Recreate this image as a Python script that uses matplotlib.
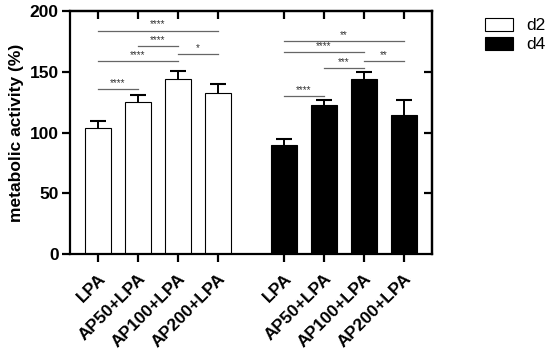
import numpy as np
import matplotlib.pyplot as plt

labels = ['LPA', 'AP50+LPA', 'AP100+LPA', 'AP200+LPA']
d2_mean = [103.5, 125, 144, 133]
d2_err = [6, 6, 7, 7]
d4_mean = [90, 123, 144, 114.5]
d4_err = [5, 4, 6, 12.5]

# significance brackets: (group, i, j, height, stars)
sig = [
    ('d2', 0, 3, 184, '****'),
    ('d2', 1, 2, 171, '****'),
    ('d2', 2, 3, 165, '*'),
    ('d2', 0, 2, 159, '****'),
    ('d2', 0, 1, 136, '****'),
    ('d4', 0, 3, 175, '**'),
    ('d4', 0, 2, 166, '****'),
    ('d4', 2, 3, 159, '**'),
    ('d4', 1, 2, 153, '***'),
    ('d4', 0, 1, 130, '****'),
]

plt.rcParams['font.family'] = ['Liberation Sans', 'DejaVu Sans']

x2 = np.arange(4)
x4 = np.arange(4) + 4.65
w = 0.65

fig = plt.figure(figsize=(5.5, 3.58), dpi=100)
ax = fig.add_axes([0.127, 0.29, 0.658, 0.679])

ax.bar(x2, d2_mean, w, color='white', edgecolor='black', linewidth=0.8,
       label='d2', zorder=2)
ax.bar(x4, d4_mean, w, color='black', edgecolor='black', linewidth=0.8,
       label='d4', zorder=2)
for xs, m, e in [(x2, d2_mean, d2_err), (x4, d4_mean, d4_err)]:
    eb = ax.errorbar(xs, m, yerr=[np.zeros(4), e], fmt='none',
                     ecolor='black', elinewidth=1.4, capsize=6,
                     capthick=1.5, zorder=3)
    eb[1][0].set_visible(False)  # hide the lower cap

for grp, i, j, h, s in sig:
    xs = x2 if grp == 'd2' else x4
    ax.plot([xs[i], xs[j]], [h, h], color='#666666', lw=0.9)
    ax.text((xs[i] + xs[j]) / 2, h + 0.8, s, ha='center', va='bottom',
            fontsize=7, color='#333333')

ax.set_xlim(-0.7, 8.35)
ax.set_ylim(0, 200)
ax.set_yticks([0, 50, 100, 150, 200])
ax.set_yticklabels(['0', '50', '100', '150', '200'], fontsize=12.5,
                   fontweight='bold')
allx = np.concatenate([x2, x4])
ax.set_xticks(allx)
ax.set_xticklabels(labels + labels, rotation=45, ha='right',
                   rotation_mode='anchor', fontsize=12.5, fontweight='bold')
ax.set_ylabel('metabolic activity (%)', fontsize=12.5, fontweight='bold',
              labelpad=4)

for sp in ax.spines.values():
    sp.set_linewidth(1.6)
ax.tick_params(axis='both', width=1.6, length=6, direction='out', pad=2)
ax.tick_params(axis='x', pad=6)

top = ax.secondary_xaxis('top')
top.set_xticks(allx)
top.set_xticklabels([])
top.tick_params(direction='in', width=1.6, length=6)
top.spines['top'].set_linewidth(1.6)
right = ax.secondary_yaxis('right')
right.set_yticks([50, 100, 150])
right.set_yticklabels([])
right.tick_params(direction='in', width=1.6, length=6)
right.spines['right'].set_linewidth(1.6)

fig.legend(*ax.get_legend_handles_labels(), loc='upper left',
           bbox_to_anchor=(485 / 550, 1 - 18 / 358), frameon=False,
           fontsize=12.5, handlelength=1.6, handleheight=0.75,
           labelspacing=0.2, handletextpad=0.75, borderpad=0,
           borderaxespad=0)

fig.savefig('out.png', dpi=100)
